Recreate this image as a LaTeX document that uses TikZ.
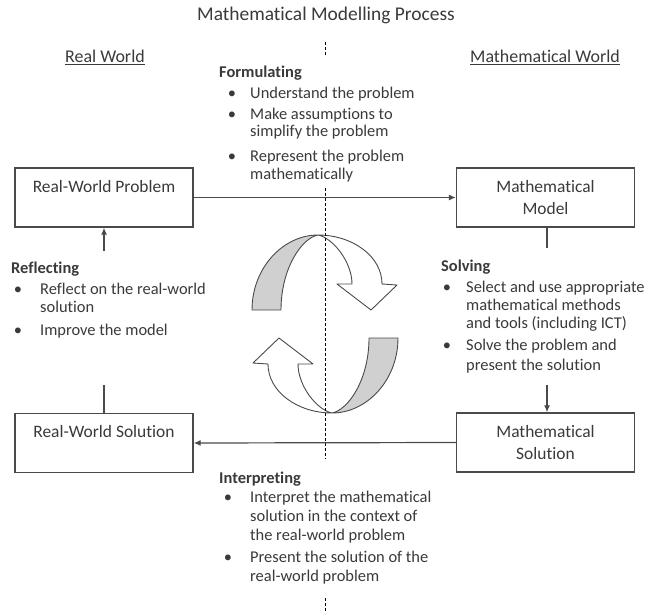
\documentclass[tikz,border=0pt]{standalone}
\usepackage{fontspec}
\setmainfont{Carlito}[Ligatures=NoCommon]
\usetikzlibrary{arrows.meta}
\definecolor{txt}{HTML}{3A3A3A}
\definecolor{ln}{HTML}{4A4A4A}
\definecolor{band}{HTML}{D0D0D0}
\begin{document}
\begin{tikzpicture}[x=1bp,y=-1bp,
  box/.style={draw=ln, line width=1.4bp, minimum width=178bp, minimum height=59bp, align=center, font=\fontsize{17.5}{23}\selectfont, text=txt, inner sep=0pt},
  lbl/.style={anchor=base west, inner sep=0pt, text=txt, font=\fontsize{16.5}{18}\selectfont},
  hd/.style={anchor=base west, inner sep=0pt, text=txt, font=\fontsize{16.5}{18}\selectfont\bfseries},
  bul/.style={anchor=base, inner sep=0pt, text=txt, font=\fontsize{16.5}{18}\selectfont},
  top/.style={anchor=base, inner sep=0pt, text=txt, font=\fontsize{18}{20}\selectfont},
  conn/.style={draw=ln, line width=1.2bp},
  arr/.style={conn, -{Latex[length=7bp,width=6bp]}},
  dsh/.style={draw=black, line width=0.8bp, dash pattern=on 3bp off 2bp},
  ribbon/.style={draw=ln, line width=0.9bp, line join=round},
]
\useasboundingbox[fill=white] (0,0) rectangle (647,613);

% title and headings
\node[top, font=\fontsize{19.5}{22}\selectfont] (title) at (326,21) {Mathematical Modelling Process};
\node[top] (rw) at (105,63) {\underline{Real World}};
\node[top] (mw) at (545,63) {\underline{Mathematical World}};

% boxes
\node[box] (rwp) at (104,197.5) {Real-World Problem\\\mbox{}};
\node[box] (mm) at (545.5,197.5) {Mathematical\\Model};
\node[box] (ms) at (545.5,442.5) {Mathematical\\Solution};
\node[box] (rws) at (104,443) {Real-World Solution\\\mbox{}};

% curved arrows
\begin{scope}
  \path[ribbon, fill=band] (252,310) -- (281,310) .. controls (281,268) and (302,238) .. (318,235)
     .. controls (283,235) and (252,268) .. (252,310) -- cycle;
  \path[ribbon, fill=white] (318,235) .. controls (352,235) and (382,256) .. (382,284)
     -- (397,285) -- (371,310) -- (337,284) -- (352,284)
     .. controls (352,262) and (333,238) .. (318,235) -- cycle;
\end{scope}
\begin{scope}[rotate around={180:(325,324)}]
  \path[ribbon, fill=band] (252,310) -- (281,310) .. controls (281,268) and (302,238) .. (318,235)
     .. controls (283,235) and (252,268) .. (252,310) -- cycle;
  \path[ribbon, fill=white] (318,235) .. controls (352,235) and (382,256) .. (382,284)
     -- (397,285) -- (371,310) -- (337,284) -- (352,284)
     .. controls (352,262) and (333,238) .. (318,235) -- cycle;
\end{scope}

% dashed divider
\coordinate (d1) at (325,42); \coordinate (d2) at (325,57);
\coordinate (d3) at (325,188); \coordinate (d4) at (325,459);
\coordinate (d5) at (325,598); \coordinate (d6) at (325,613);
\draw[dsh] (d1) -- (d2);
\draw[dsh] (d3) -- (d4);
\draw[dsh] (d5) -- (d6);

% connectors
\draw[arr] (rwp.east) -- (mm.west);
\draw[arr] (ms.west) -- (rws.east);
\coordinate (up0) at (104,251);
\draw[arr] (up0) -- (rwp.south);
\coordinate (lf0) at (104,385);
\draw[conn] (lf0) -- (rws.north);
\coordinate (st0) at (547,248);
\draw[conn] (mm.south -| st0) -- (st0);
\coordinate (dn0) at (547,385);
\draw[arr] (dn0) -- (ms.north -| dn0);

% Formulating
\node[hd] (f0) at (219,78) {Formulating};
\node[bul] (fb1) at (232,99) {\textbullet};
\node[lbl] (f1) at (250,99) {Understand the problem};
\node[bul] (fb2) at (232,120) {\textbullet};
\node[lbl] (f2) at (250,120) {Make assumptions to};
\node[lbl] (f3) at (250,137) {simplify the problem};
\node[bul] (fb3) at (232,162) {\textbullet};
\node[lbl] (f4) at (250,162) {Represent the problem};
\node[lbl] (f5) at (250,180) {mathematically};

% Reflecting
\node[hd] (r0) at (11,273) {Reflecting};
\node[bul] (rb1) at (18,294) {\textbullet};
\node[lbl] (r1) at (40,294) {Reflect on the real-world};
\node[lbl] (r2) at (40,312) {solution};
\node[bul] (rb2) at (18,335) {\textbullet};
\node[lbl] (r3) at (40,335) {Improve the model};

% Solving
\node[hd] (s0) at (441,271) {Solving};
\node[bul] (sb1) at (447,292) {\textbullet};
\node[lbl] (s1) at (466,292) {Select and use appropriate};
\node[lbl] (s2) at (466,310) {mathematical methods};
\node[lbl] (s3) at (466,328) {and tools (including ICT)};
\node[bul] (sb2) at (447,350) {\textbullet};
\node[lbl] (s4) at (466,350) {Solve the problem and};
\node[lbl] (s5) at (466,370) {present the solution};

% Interpreting
\node[hd] (i0) at (219,483) {Interpreting};
\node[bul] (ib1) at (228,502) {\textbullet};
\node[lbl] (i1) at (250,502) {Interpret the mathematical};
\node[lbl] (i2) at (250,521) {solution in the context of};
\node[lbl] (i3) at (250,540) {the real-world problem};
\node[bul] (ib2) at (228,562) {\textbullet};
\node[lbl] (i4) at (250,562) {Present the solution of the};
\node[lbl] (i5) at (250,581) {real-world problem};
\end{tikzpicture}
\end{document}
